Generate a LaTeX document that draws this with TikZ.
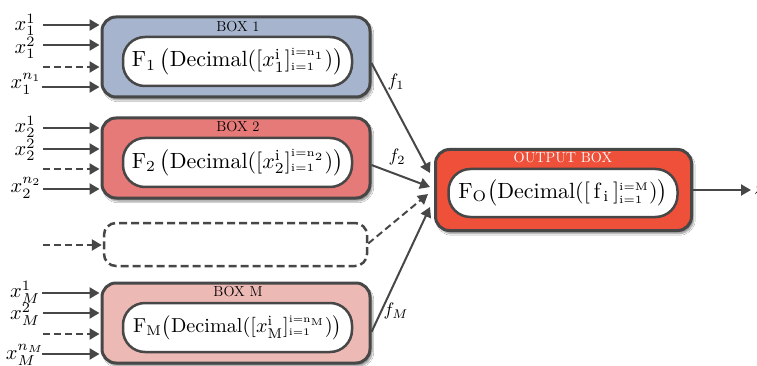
\documentclass[tikz,border=0pt]{standalone}
\usepackage{fontspec}
\usetikzlibrary{arrows.meta,calc,shadows.blur}
\definecolor{bord}{HTML}{474747}
\definecolor{cone}{HTML}{A6B5CD}
\definecolor{ctwo}{HTML}{E67A78}
\definecolor{cmm}{HTML}{EDB9B5}
\definecolor{cout}{HTML}{EF5039}
\newcommand{\fmla}[1]{\scalebox{2.2}{$#1$}}
\newcommand{\fmlam}[1]{\scalebox{2.02}{$#1$}}
\newcommand{\lbl}[1]{\scalebox{2.05}{$#1$}}
\newcommand{\flbl}[1]{\scalebox{1.8}{$#1$}}
\newcommand{\tinylim}[1]{{\scriptscriptstyle\mathrm{#1}}}
\begin{document}
\begin{tikzpicture}[x=1pt,y=-1pt,
  outerbox/.style={draw=bord, line width=3pt, rounded corners=14pt,
    minimum width=268pt, minimum height=80pt, inner sep=0pt,
    blur shadow={shadow xshift=2pt, shadow yshift=-3pt, shadow blur steps=6, shadow opacity=45}},
  innerbox/.style={draw=bord, line width=2.5pt, fill=white, rounded corners=22pt,
    minimum width=229pt, minimum height=49pt, inner sep=0pt},
  boxtitle/.style={font=\fontsize{14.5}{16}\selectfont, inner sep=0pt},
  inlabel/.style={inner sep=0pt},
  flabel/.style={inner sep=0pt},
  inarrow/.style={draw=bord, line width=2.5pt, -{Triangle[length=10pt,width=11pt]}, shorten >=1pt},
  dasharrow/.style={inarrow, dash pattern=on 7pt off 4pt},
  conn/.style={draw=bord, line width=2pt, -{Triangle[length=10pt,width=11pt]}}
]
\useasboundingbox (0,0) rectangle (757,366);
\clip (0,0) rectangle (757,366);
\fill[white] (0,0) rectangle (757,366);

% ---- Box 1
\node[outerbox, fill=cone] (b1) at (236,57) {};
\node[boxtitle] (t1) at (238,27) {BOX 1};
\node[innerbox] (i1) at (237.5,61.5)
  {\fmla{\mathrm{F}_1\,\bigl(\mathrm{Decimal}([x_1^{\mathrm{i}}]_{\tinylim{i=1}}^{\tinylim{i=n_1}})\bigr)}};

% ---- Box 2
\node[outerbox, fill=ctwo] (b2) at (236,158) {};
\node[boxtitle] (t2) at (238,127) {BOX 2};
\node[innerbox] (i2) at (237.5,162.5)
  {\fmla{\mathrm{F}_2\,\bigl(\mathrm{Decimal}([x_2^{\mathrm{i}}]_{\tinylim{i=1}}^{\tinylim{i=n_2}})\bigr)}};

% ---- dashed placeholder box
\node[draw=bord, line width=2.5pt, dash pattern=on 8pt off 4pt, rounded corners=12pt,
  minimum width=263pt, minimum height=43pt] (bd) at (235.5,244.5) {};

% ---- Box M
\node[outerbox, fill=cmm] (bm) at (236,323) {};
\node[boxtitle] (tm) at (238,292) {BOX M};
\node[innerbox] (im) at (237.5,327.5)
  {\fmlam{\mathrm{F_M}\bigl(\mathrm{Decimal}([x_{\mathrm{M}}^{\mathrm{i}}]_{\tinylim{i=1}}^{\tinylim{i=n_M}})\bigr)}};

% ---- Output box
\node[outerbox, fill=cout, minimum width=256pt, minimum height=81pt] (ob) at (563.5,190) {};
\node[boxtitle, text=white] (to) at (563,158) {OUTPUT BOX};
\node[innerbox, minimum height=48pt] (io) at (563,193)
  {\fmla{\mathrm{F_O}\bigl(\mathrm{Decimal}([\,\mathrm{f}_{\,\mathrm{i}}\,]_{\tinylim{i=1}}^{\tinylim{i=M}})\bigr)}};

% ---- input labels
\node[inlabel] (l11) at (25,25) {\lbl{x_1^1}};
\node[inlabel] (l12) at (25,48) {\lbl{x_1^2}};
\node[inlabel] (l1n) at (26,84) {\lbl{x_1^{n_1}}};
\node[inlabel] (l21) at (25,127) {\lbl{x_2^1}};
\node[inlabel] (l22) at (25,150) {\lbl{x_2^2}};
\node[inlabel] (l2n) at (26,188) {\lbl{x_2^{n_2}}};
\node[inlabel] (lm1) at (25,292) {\lbl{x_M^1}};
\node[inlabel] (lm2) at (25,314) {\lbl{x_M^2}};
\node[inlabel] (lmn) at (25,355) {\lbl{x_M^{n_M}}};

% ---- input arrow start points
\coordinate (a11) at (43,25);
\coordinate (a12) at (43,45);
\coordinate (a13) at (43,67);
\coordinate (a14) at (42,87);
\coordinate (a21) at (43,128);
\coordinate (a22) at (43,149);
\coordinate (a23) at (43,169);
\coordinate (a24) at (43,189);
\coordinate (ad) at (43,245);
\coordinate (am1) at (42,293);
\coordinate (am2) at (43,313);
\coordinate (am3) at (43,334);
\coordinate (am4) at (42,354);

\draw[inarrow] (a11) -- (a11 -| b1.west);
\draw[inarrow] (a12) -- (a12 -| b1.west);
\draw[dasharrow] (a13) -- (a13 -| b1.west);
\draw[inarrow] (a14) -- (a14 -| b1.west);
\draw[inarrow] (a21) -- (a21 -| b2.west);
\draw[inarrow] (a22) -- (a22 -| b2.west);
\draw[dasharrow] (a23) -- (a23 -| b2.west);
\draw[inarrow] (a24) -- (a24 -| b2.west);
\draw[dasharrow] (ad) -- (ad -| bd.west);
\draw[inarrow] (am1) -- (am1 -| bm.west);
\draw[inarrow] (am2) -- (am2 -| bm.west);
\draw[dasharrow] (am3) -- (am3 -| bm.west);
\draw[inarrow] (am4) -- (am4 -| bm.west);

% ---- connectors to output box
\draw[conn] ($(b1.east)+(0,6)$) -- ($(ob.west)+(-4,-17)$);
\draw[conn] ($(b2.east)+(0,7)$) -- ($(ob.west)+(-4,-3)$);
\draw[conn, dash pattern=on 7pt off 4pt] ($(bd.east)+(0,-1)$) -- ($(ob.west)+(-6,4)$);
\draw[conn] ($(bm.east)+(0,9)$) -- ($(ob.west)+(-4,17)$);

\node[flabel] (f1) at (396,82) {\flbl{f_1}};
\node[flabel] (f2) at (397,157) {\flbl{f_2}};
\node[flabel] (fm) at (396,311) {\flbl{f_M}};

% ---- output
\node[inlabel, anchor=west, inner sep=3pt] (z) at (751,190) {\lbl{z}};
\draw[conn] (ob.east) -- (z.west);
\end{tikzpicture}
\end{document}
